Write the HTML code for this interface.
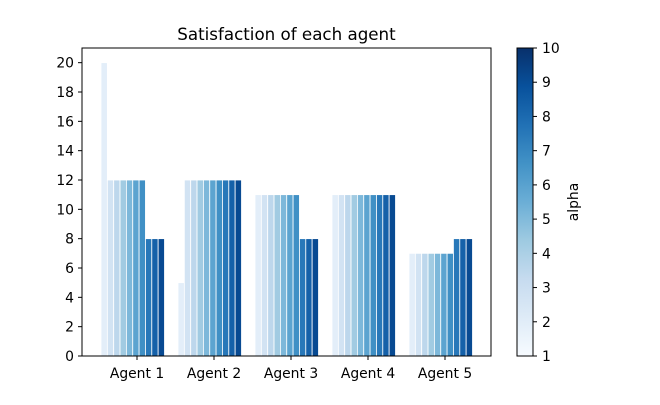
<!DOCTYPE html>
<html><head><meta charset="utf-8"><style>
body{margin:0;background:#fff;}
svg{font-family:"DejaVu Sans","Liberation Sans",sans-serif;}
</style></head><body>
<svg id="chart" width="660" height="400" xmlns="http://www.w3.org/2000/svg">
<defs><linearGradient id="cbg" x1="0" y1="1" x2="0" y2="0">
<stop offset="0" stop-color="#f7fbff"/><stop offset="0.125" stop-color="#deebf7"/><stop offset="0.25" stop-color="#c6dbef"/><stop offset="0.375" stop-color="#9ecae1"/><stop offset="0.5" stop-color="#6baed6"/><stop offset="0.625" stop-color="#4292c6"/><stop offset="0.75" stop-color="#2171b5"/><stop offset="0.875" stop-color="#08519c"/><stop offset="1" stop-color="#08306b"/>
</linearGradient></defs>
<g id="plot"></g>
</svg>
<script>
const categories=["Agent 1","Agent 2","Agent 3","Agent 4","Agent 5"];
const alphas=[1,2,3,4,5,6,7,8,9,10];
const s1=[20,12,12,12,12,12,12,8,8,8];
const s2=[5,12,12,12,12,12,12,12,12,12];
const s3=[11,11,11,11,11,11,11,8,8,8];
const s4=[11,11,11,11,11,11,11,11,11,11];
const s5=[7,7,7,7,7,7,7,8,8,8];
const series=[s1,s2,s3,s4,s5];
const yTicks=[0,2,4,6,8,10,12,14,16,18,20];
const cbTicks=[1,2,3,4,5,6,7,8,9,10];

const NS="http://www.w3.org/2000/svg";
const g=document.getElementById('plot');
const L=82,R=491,T=48,B=356,yMax=21;
const y=v=>B-(v/yMax)*(B-T);
const groupW=77,barW=6.35,x0=101;
const xg=i=>x0+groupW*i;
const stops=[[247,251,255],[222,235,247],[198,219,239],[158,202,225],[107,174,214],[66,146,198],[33,113,181],[8,81,156],[8,48,107]];
function cmap(t){t=Math.max(0,Math.min(1,t));const p=t*8,i=Math.min(7,Math.floor(p)),f=p-i;const a=stops[i],b=stops[i+1];return 'rgb('+a.map((c,k)=>Math.round(c+(b[k]-c)*f)).join(',')+')';}
function el(tag,attrs,parent){const e=document.createElementNS(NS,tag);for(const k in attrs)e.setAttribute(k,attrs[k]);(parent||g).appendChild(e);return e;}

series.forEach((s,i)=>{s.forEach((v,j)=>{
 const t=0.1+0.8*(alphas[j]-1)/(alphas.length-1);
 const r=el('rect',{x:xg(i)+barW*j,y:y(v),width:barW,height:B-y(v),fill:cmap(t),stroke:'#fff','stroke-width':0.8});
 
 
});});

const ax=el('rect',{x:L,y:T,width:R-L,height:B-T,fill:'none',stroke:'#000','stroke-width':1});


yTicks.forEach(v=>{
 el('line',{x1:L-4,x2:L,y1:y(v),y2:y(v),stroke:'#000'});
 const t=el('text',{x:L-8,y:y(v)+5,'text-anchor':'end','font-size':13.9,fill:'#000'});t.textContent=v;
 
 
});
categories.forEach((c,i)=>{
 const cx=137+groupW*i;
 el('line',{x1:cx,x2:cx,y1:B,y2:B+4,stroke:'#000'});
 const t=el('text',{x:cx,y:B+22,'text-anchor':'middle','font-size':13.9,fill:'#000'});t.textContent=c;
 
 
});
const title=el('text',{x:(L+R)/2,y:40,'text-anchor':'middle','font-size':16.7,fill:'#000'});title.textContent='Satisfaction of each agent';



// colorbar
const cL=517,cR=533;
const cb=el('rect',{x:cL,y:T,width:cR-cL,height:B-T,fill:'url(#cbg)',stroke:'#000','stroke-width':1});


const cy=v=>B-(v-1)/9*(B-T);
cbTicks.forEach(v=>{
 el('line',{x1:cR,x2:cR+4,y1:cy(v),y2:cy(v),stroke:'#000'});
 const t=el('text',{x:cR+9,y:cy(v)+5,'font-size':13.9,fill:'#000'});t.textContent=v;
 
 
});
const cbl=el('text',{x:578,y:202,'text-anchor':'middle','font-size':13.9,fill:'#000',transform:'rotate(-90 578 202)'});cbl.textContent='alpha';


</script>
</body></html>
